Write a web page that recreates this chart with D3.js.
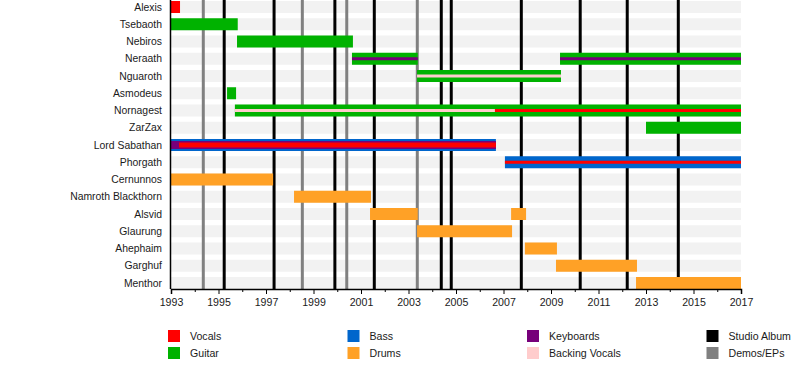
<!DOCTYPE html>
<html><head><meta charset="utf-8">
<script src="https://cdn.jsdelivr.net/npm/d3@7"></script>
<style>body{margin:0;background:#fff}svg{display:block;font-family:"Liberation Sans",Arial,sans-serif}</style>
</head><body><svg id="c" width="800" height="368"></svg>
<script>
const members = ["Alexis","Tsebaoth","Nebiros","Neraath","Nguaroth","Asmodeus","Nornagest","ZarZax","Lord Sabathan","Phorgath","Cernunnos","Namroth Blackthorn","Alsvid","Glaurung","Ahephaim","Garghuf","Menthor"];
const roles = ["Vocals","Guitar","Bass","Drums","Keyboards","Backing Vocals"];
const roleColors = ["#ff0000","#00b200","#0066cc","#ffa126","#77007a","#ffcccc"];
// [member, role, start, end, layer] layer: 0 full, 1 mid, 2 thin, 3 medium-thin
const periods = [
  ["Alexis","Vocals",1993,1993.38,0],
  ["Tsebaoth","Guitar",1993,1995.81,0],
  ["Nebiros","Guitar",1995.78,2000.66,0],
  ["Neraath","Guitar",2000.62,2003.39,0],
  ["Neraath","Keyboards",2000.62,2003.39,2],
  ["Neraath","Guitar",2009.38,2017,0],
  ["Neraath","Keyboards",2009.38,2017,2],
  ["Nguaroth","Guitar",2003.36,2009.42,0],
  ["Nguaroth","Backing Vocals",2003.36,2009.42,2],
  ["Asmodeus","Guitar",1995.36,1995.74,0],
  ["Nornagest","Guitar",1995.69,2017,0],
  ["Nornagest","Backing Vocals",1995.69,2006.64,2],
  ["Nornagest","Vocals",2006.64,2017,2],
  ["ZarZax","Guitar",2013,2017,0],
  ["Lord Sabathan","Bass",1993,2006.68,0],
  ["Lord Sabathan","Keyboards",1993,2006.68,1],
  ["Lord Sabathan","Vocals",1993.34,2006.68,3],
  ["Phorgath","Bass",2007.06,2017,0],
  ["Phorgath","Vocals",2007.06,2017,2],
  ["Cernunnos","Drums",1993,1997.3,0],
  ["Namroth Blackthorn","Drums",1998.18,2001.42,0],
  ["Alsvid","Drums",2001.38,2003.39,0],
  ["Alsvid","Drums",2007.32,2007.95,0],
  ["Glaurung","Drums",2003.36,2007.36,0],
  ["Ahephaim","Drums",2007.9,2009.25,0],
  ["Garghuf","Drums",2009.21,2012.62,0],
  ["Menthor","Drums",2012.58,2017,0]
];
const studioAlbums = [1995.24,1997.34,1999.9,2001.56,2004.38,2004.8,2007.75,2010.23,2012.21,2014.36];
const demos = [1994.36,1998.53,2000.4,2003.37];
const tickYears = d3.range(1993,2018,2);
const legendItems = [["Vocals","#ff0000"],["Guitar","#00b200"],["Bass","#0066cc"],["Drums","#ffa126"],["Keyboards","#77007a"],["Backing Vocals","#ffcccc"],["Studio Album","#000000"],["Demos/EPs","#808080"]];

const svg = d3.select("#c");
const x = d3.scaleLinear().domain([1993,2017]).range([171,741]);
const y = d3.scaleBand().domain(members).range([1,289]).paddingInner(0.304).paddingOuter(0);
const color = d3.scaleOrdinal().domain(roles).range(roleColors);
const bw = y.bandwidth();
const layerH = [bw, 8, 3, 5];

svg.append("g").selectAll("rect").data(members).join("rect")
  .attr("x", x(1993)).attr("width", x(2017)-x(1993))
  .attr("y", d=>y(d)).attr("height", bw).attr("fill","#f2f2f2");

svg.append("g").selectAll("line").data(demos).join("line")
  .attr("x1", d=>x(d)).attr("x2", d=>x(d)).attr("y1",0).attr("y2",289)
  .attr("stroke","#808080").attr("stroke-width",3);
svg.append("g").selectAll("line").data(studioAlbums).join("line")
  .attr("x1", d=>x(d)).attr("x2", d=>x(d)).attr("y1",0).attr("y2",289)
  .attr("stroke","#000").attr("stroke-width",3);

svg.append("g").selectAll("rect").data(periods).join("rect")
  .attr("x", d=>x(d[2])).attr("width", d=>x(d[3])-x(d[2]))
  .attr("y", d=>y(d[0]) + (bw - layerH[d[4]])/2).attr("height", d=>layerH[d[4]])
  .attr("fill", d=>color(d[1]));

svg.append("g").selectAll("text").data(members).join("text")
  .attr("x",162).attr("y", d=>y(d)+bw/2).attr("dy","0.35em")
  .attr("text-anchor","end").attr("font-size",10.4).attr("fill","#1a1a1a").text(d=>d);

// axes
svg.append("line").attr("x1",170.5).attr("x2",170.5).attr("y1",0).attr("y2",289).attr("stroke","#000").attr("stroke-width",1.5);
const ax = svg.append("g").attr("transform","translate(0,289)")
  .call(d3.axisBottom(x).tickValues(tickYears).tickFormat(d3.format("d")).tickSize(5).tickPadding(4));
ax.select(".domain").attr("stroke-width",1.5);
ax.selectAll("text").attr("font-size",10.6).attr("fill","#1a1a1a").attr("font-family","'Liberation Sans',Arial,sans-serif");
svg.append("g").attr("transform","translate(0,289)").selectAll("line")
  .data(d3.range(1994,2017,2)).join("line")
  .attr("x1",d=>x(d)+0.5).attr("x2",d=>x(d)+0.5).attr("y1",0).attr("y2",3).attr("stroke","#000");

// legend
const lg = svg.append("g").selectAll("g").data(legendItems).join("g")
  .attr("transform",(d,i)=>`translate(${168+Math.floor(i/2)*179.5},${330+(i%2)*17})`);
lg.append("rect").attr("width",12).attr("height",12).attr("fill",d=>d[1]);
lg.append("text").attr("x",22).attr("y",6).attr("dy","0.35em").attr("font-size",10.6).attr("fill","#1a1a1a").text(d=>d[0]);
</script></body></html>
